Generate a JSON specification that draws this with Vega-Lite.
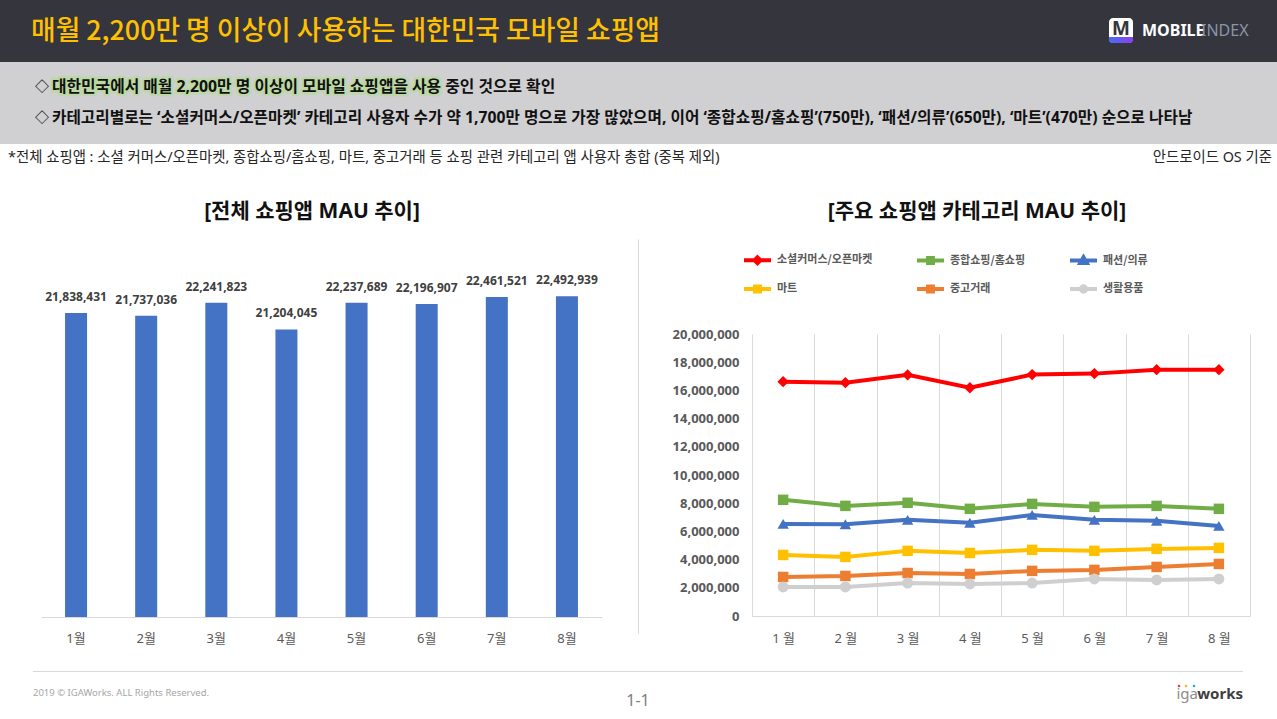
{
  "$schema": "https://vega.github.io/schema/vega-lite/v6.json",
  "padding": 0,
  "background": "#ffffff",
  "spacing": 0,
  "resolve": {"scale": {"color": "independent"}, "legend": {"color": "independent"}},
  "config": {
    "font": "Noto Sans, Noto Sans CJK KR",
    "view": {"stroke": null},
    "title": {"font": "Noto Sans, Noto Sans CJK KR", "color": "#111111", "fontSize": 21, "fontWeight": "bold"}
  },
  "vconcat": [
    {
      "width": 1277,
      "height": 62,
      "view": {"fill": "#34353d", "stroke": null},
      "layer": [
        {
          "data": {"values": [{"t": "매월 2,200만 명 이상이 사용하는 대한민국 모바일 쇼핑앱"}]},
          "mark": {"type": "text", "align": "left", "baseline": "middle", "fontSize": 26.8, "fontWeight": 500, "color": "#ffc000", "font": "Noto Sans CJK KR"},
          "encoding": {"text": {"field": "t"}, "x": {"value": 31}, "y": {"value": 32}}
        },
        {
          "data": {"values": [{}]},
          "mark": {"type": "rect", "color": "#ffffff", "cornerRadius": 4},
          "encoding": {"x": {"value": 1109}, "x2": {"value": 1133}, "y": {"value": 18}, "y2": {"value": 43}}
        },
        {
          "data": {"values": [{}]},
          "mark": {"type": "rect", "cornerRadiusBottomLeft": 4, "cornerRadiusBottomRight": 4,
            "color": {"gradient": "linear", "x1": 0, "x2": 1, "y1": 0, "y2": 0, "stops": [{"offset": 0, "color": "#4d6bf5"}, {"offset": 1, "color": "#8b3ff0"}]}},
          "encoding": {"x": {"value": 1109}, "x2": {"value": 1133}, "y": {"value": 37}, "y2": {"value": 43}}
        },
        {
          "data": {"values": [{"t": "M"}]},
          "mark": {"type": "text", "align": "center", "baseline": "middle", "fontSize": 19, "fontWeight": "bold", "color": "#34353d"},
          "encoding": {"text": {"field": "t"}, "x": {"value": 1121}, "y": {"value": 29}}
        },
        {
          "data": {"values": [{"t": "MOBILE"}]},
          "mark": {"type": "text", "align": "left", "baseline": "middle", "fontSize": 16, "fontWeight": "bold", "color": "#ffffff"},
          "encoding": {"text": {"field": "t"}, "x": {"value": 1142}, "y": {"value": 31}}
        },
        {
          "data": {"values": [{"t": "INDEX"}]},
          "mark": {"type": "text", "align": "left", "baseline": "middle", "fontSize": 16, "color": "#8b95a8"},
          "encoding": {"text": {"field": "t"}, "x": {"value": 1201}, "y": {"value": 31}}
        }
      ]
    },
    {
      "width": 1277,
      "height": 82,
      "view": {"fill": "#d0cfd1", "stroke": null},
      "layer": [
        {
          "data": {"values": [{"t": "대한민국에서 매월 2,200만 명 이상이 모바일 쇼핑앱을 사용"}]},
          "mark": {"type": "text", "align": "left", "baseline": "middle", "fontSize": 15.8, "fontWeight": "bold", "fill": "#b4dc96", "stroke": "#b4dc96", "strokeWidth": 5, "strokeOpacity": 0.7, "strokeJoin": "round"},
          "encoding": {"text": {"field": "t"}, "x": {"value": 52}, "y": {"value": 25}}
        },
        {
          "data": {"values": [{"t": "◇"}]},
          "mark": {"type": "text", "align": "left", "baseline": "middle", "fontSize": 14, "fontWeight": "bold", "color": "#111111"},
          "encoding": {"text": {"field": "t"}, "x": {"value": 35}, "y": {"value": 25}}
        },
        {
          "data": {"values": [{"t": "대한민국에서 매월 2,200만 명 이상이 모바일 쇼핑앱을 사용 중인 것으로 확인"}]},
          "mark": {"type": "text", "align": "left", "baseline": "middle", "fontSize": 15.8, "fontWeight": "bold", "color": "#111111"},
          "encoding": {"text": {"field": "t"}, "x": {"value": 52}, "y": {"value": 25}}
        },
        {
          "data": {"values": [{"t": "◇"}]},
          "mark": {"type": "text", "align": "left", "baseline": "middle", "fontSize": 14, "fontWeight": "bold", "color": "#111111"},
          "encoding": {"text": {"field": "t"}, "x": {"value": 35}, "y": {"value": 56}}
        },
        {
          "data": {"values": [{"t": "카테고리별로는 ‘소셜커머스/오픈마켓’ 카테고리 사용자 수가 약 1,700만 명으로 가장 많았으며, 이어 ‘종합쇼핑/홈쇼핑’(750만), ‘패션/의류’(650만), ‘마트’(470만) 순으로 나타남"}]},
          "mark": {"type": "text", "align": "left", "baseline": "middle", "fontSize": 15.7, "fontWeight": "bold", "color": "#111111"},
          "encoding": {"text": {"field": "t"}, "x": {"value": 52}, "y": {"value": 56}}
        }
      ]
    },
    {
      "width": 1277,
      "height": 57,
      "layer": [
        {
          "data": {"values": [{"t": "*전체 쇼핑앱 : 소셜 커머스/오픈마켓, 종합쇼핑/홈쇼핑, 마트, 중고거래 등 쇼핑 관련 카테고리 앱 사용자 총합 (중복 제외)"}]},
          "mark": {"type": "text", "align": "left", "baseline": "middle", "fontSize": 14.4, "color": "#262626"},
          "encoding": {"text": {"field": "t"}, "x": {"value": 8}, "y": {"value": 14}}
        },
        {
          "data": {"values": [{"t": "안드로이드 OS 기준"}]},
          "mark": {"type": "text", "align": "right", "baseline": "middle", "fontSize": 14.4, "color": "#262626"},
          "encoding": {"text": {"field": "t"}, "x": {"value": 1272}, "y": {"value": 14}}
        }
      ]
    },
    {
      "spacing": 34,
      "resolve": {"scale": {"color": "independent"}, "legend": {"color": "independent"}},
      "hconcat": [
        {
          "width": 602,
          "height": 394,
          "title": {"text": "[전체 쇼핑앱 MAU 추이]", "offset": 17, "dx": 11, "frame": "group", "anchor": "middle"},
          "data": {"values": [
            {"month": "1월", "mau": 21838431},
            {"month": "2월", "mau": 21737036},
            {"month": "3월", "mau": 22241823},
            {"month": "4월", "mau": 21204045},
            {"month": "5월", "mau": 22237689},
            {"month": "6월", "mau": 22196907},
            {"month": "7월", "mau": 22461521},
            {"month": "8월", "mau": 22492939}
          ]},
          "encoding": {
            "x": {
              "field": "month", "type": "nominal",
              "scale": {"domain": ["1월", "2월", "3월", "4월", "5월", "6월", "7월", "8월"], "range": [41, 602], "paddingInner": 0.686, "paddingOuter": 0.343},
              "axis": {"title": null, "labelAngle": 0, "ticks": false, "domain": true, "domainColor": "#d9d9d9", "offset": -16, "labelPadding": 15, "labelFontSize": 13, "labelColor": "#595959", "labelFont": "Noto Sans, Noto Sans CJK KR"}
            },
            "y": {"field": "mau", "type": "quantitative", "scale": {"domain": [9376700, 24725400], "nice": false, "zero": false},
              "axis": {"orient": "right", "offset": 36, "title": null, "domain": true, "domainColor": "#d9d9d9", "ticks": false, "labels": false, "grid": false}}
          },
          "layer": [
            {
              "mark": {"type": "bar", "color": "#4472c4"},
              "encoding": {"y2": {"datum": 10000000}}
            },
            {
              "mark": {"type": "text", "dy": -16, "fontSize": 12, "fontWeight": "bold", "color": "#404040"},
              "encoding": {"text": {"field": "mau", "type": "quantitative", "format": ","}}
            }
          ]
        },
        {
          "width": 498,
          "height": 377,
          "title": {"text": "[주요 쇼핑앱 카테고리 MAU 추이]", "offset": 17, "dx": -24, "frame": "group", "anchor": "middle"},
          "data": {"values": [
            {"month": "1월", "category": "소셜커머스/오픈마켓", "value": 16620000},
            {"month": "2월", "category": "소셜커머스/오픈마켓", "value": 16550000},
            {"month": "3월", "category": "소셜커머스/오픈마켓", "value": 17100000},
            {"month": "4월", "category": "소셜커머스/오픈마켓", "value": 16190000},
            {"month": "5월", "category": "소셜커머스/오픈마켓", "value": 17120000},
            {"month": "6월", "category": "소셜커머스/오픈마켓", "value": 17190000},
            {"month": "7월", "category": "소셜커머스/오픈마켓", "value": 17470000},
            {"month": "8월", "category": "소셜커머스/오픈마켓", "value": 17470000},
            {"month": "1월", "category": "종합쇼핑/홈쇼핑", "value": 8240000},
            {"month": "2월", "category": "종합쇼핑/홈쇼핑", "value": 7810000},
            {"month": "3월", "category": "종합쇼핑/홈쇼핑", "value": 8030000},
            {"month": "4월", "category": "종합쇼핑/홈쇼핑", "value": 7600000},
            {"month": "5월", "category": "종합쇼핑/홈쇼핑", "value": 7950000},
            {"month": "6월", "category": "종합쇼핑/홈쇼핑", "value": 7740000},
            {"month": "7월", "category": "종합쇼핑/홈쇼핑", "value": 7810000},
            {"month": "8월", "category": "종합쇼핑/홈쇼핑", "value": 7600000},
            {"month": "1월", "category": "패션/의류", "value": 6530000},
            {"month": "2월", "category": "패션/의류", "value": 6510000},
            {"month": "3월", "category": "패션/의류", "value": 6820000},
            {"month": "4월", "category": "패션/의류", "value": 6610000},
            {"month": "5월", "category": "패션/의류", "value": 7170000},
            {"month": "6월", "category": "패션/의류", "value": 6820000},
            {"month": "7월", "category": "패션/의류", "value": 6750000},
            {"month": "8월", "category": "패션/의류", "value": 6390000},
            {"month": "1월", "category": "마트", "value": 4330000},
            {"month": "2월", "category": "마트", "value": 4190000},
            {"month": "3월", "category": "마트", "value": 4620000},
            {"month": "4월", "category": "마트", "value": 4470000},
            {"month": "5월", "category": "마트", "value": 4690000},
            {"month": "6월", "category": "마트", "value": 4620000},
            {"month": "7월", "category": "마트", "value": 4760000},
            {"month": "8월", "category": "마트", "value": 4830000},
            {"month": "1월", "category": "중고거래", "value": 2770000},
            {"month": "2월", "category": "중고거래", "value": 2840000},
            {"month": "3월", "category": "중고거래", "value": 3050000},
            {"month": "4월", "category": "중고거래", "value": 2980000},
            {"month": "5월", "category": "중고거래", "value": 3200000},
            {"month": "6월", "category": "중고거래", "value": 3270000},
            {"month": "7월", "category": "중고거래", "value": 3480000},
            {"month": "8월", "category": "중고거래", "value": 3690000},
            {"month": "1월", "category": "생활용품", "value": 2060000},
            {"month": "2월", "category": "생활용품", "value": 2060000},
            {"month": "3월", "category": "생활용품", "value": 2340000},
            {"month": "4월", "category": "생활용품", "value": 2270000},
            {"month": "5월", "category": "생활용품", "value": 2340000},
            {"month": "6월", "category": "생활용품", "value": 2630000},
            {"month": "7월", "category": "생활용품", "value": 2560000},
            {"month": "8월", "category": "생활용품", "value": 2630000}
          ]},
          "encoding": {
            "x": {
              "field": "month", "type": "nominal",
              "scale": {"type": "band", "domain": ["1월", "2월", "3월", "4월", "5월", "6월", "7월", "8월"], "paddingInner": 0, "paddingOuter": 0},
              "axis": {"title": null, "labelAngle": 0, "grid": false, "ticks": true, "tickBand": "extent", "tickSize": -282, "tickColor": "#d9d9d9", "tickWidth": 1, "domain": true, "domainColor": "#d9d9d9", "labelPadding": 298, "labelFontSize": 13, "labelColor": "#595959", "labelFont": "Noto Sans, Noto Sans CJK KR", "labelExpr": "replace(datum.label, '월', ' 월')"}
            },
            "y": {
              "field": "value", "type": "quantitative",
              "scale": {"domain": [0, 26737589], "nice": false},
              "axis": {"title": null, "values": [0, 2000000, 4000000, 6000000, 8000000, 10000000, 12000000, 14000000, 16000000, 18000000, 20000000], "format": ",d", "grid": false, "domain": false, "ticks": false, "labelPadding": 13, "labelFontSize": 13, "labelFontWeight": "bold", "labelColor": "#595959"}
            }
          },
          "layer": [
            {
              "mark": {"type": "line", "strokeWidth": 4},
              "encoding": {
                "color": {
                  "field": "category", "type": "nominal",
                  "scale": {"domain": ["소셜커머스/오픈마켓", "종합쇼핑/홈쇼핑", "패션/의류", "마트", "중고거래", "생활용품"], "range": ["#ff0000", "#70ad47", "#4472c4", "#ffc000", "#ed7d31", "#cfcfcf"]},
                  "legend": {
                    "orient": "none", "legendX": -10, "legendY": 5.5, "direction": "horizontal", "columns": 3, "title": null, "padding": 0,
                    "symbolType": "M-1,0H1M-0.18,-0.18H0.18V0.18H-0.18Z", "symbolSize": 729, "symbolStrokeWidth": 4,
                    "labelFontSize": 11, "labelFontWeight": "bold", "labelColor": "#595959", "labelFont": "Noto Sans CJK KR",
                    "labelOffset": 4, "columnPadding": 36, "rowPadding": 2,
                    "encoding": {
                      "symbols": {
                        "shape": {"value": {"expr": "datum.value === '소셜커머스/오픈마켓' ? 'M-1,0H1M0,-0.22L0.22,0L0,0.22L-0.22,0Z' : datum.value === '패션/의류' ? 'M-1,0H1M0,-0.24L0.24,0.18H-0.24Z' : datum.value === '생활용품' ? 'M-1,0H1M-0.2,0A0.2,0.2,0,1,1,0.2,0A0.2,0.2,0,1,1,-0.2,0Z' : 'M-1,0H1M-0.18,-0.18H0.18V0.18H-0.18Z'"}},
                        "fill": {"value": {"expr": "scale('color', datum.value)"}},
                        "stroke": {"value": {"expr": "scale('color', datum.value)"}},
                        "strokeWidth": {"value": 4}
                      }
                    }
                  }
                }
              }
            },
            {
              "transform": [{"filter": "datum.category === '소셜커머스/오픈마켓'"}],
              "mark": {"type": "point", "shape": "diamond", "filled": true, "size": 130, "opacity": 1},
              "encoding": {"color": {"field": "category", "type": "nominal"}}
            },
            {
              "transform": [{"filter": {"field": "category", "oneOf": ["종합쇼핑/홈쇼핑", "마트", "중고거래"]}}],
              "mark": {"type": "point", "shape": "square", "filled": true, "size": 110, "opacity": 1},
              "encoding": {"color": {"field": "category", "type": "nominal"}}
            },
            {
              "transform": [{"filter": "datum.category === '패션/의류'"}],
              "mark": {"type": "point", "shape": "triangle-up", "filled": true, "size": 130, "opacity": 1},
              "encoding": {"color": {"field": "category", "type": "nominal"}}
            },
            {
              "transform": [{"filter": "datum.category === '생활용품'"}],
              "mark": {"type": "point", "shape": "circle", "filled": true, "size": 120, "opacity": 1},
              "encoding": {"color": {"field": "category", "type": "nominal"}}
            }
          ]
        }
      ]
    },
    {
      "width": 1277,
      "height": 74,
      "layer": [
        {
          "data": {"values": [{}]},
          "mark": {"type": "rule", "color": "#d9d9d9", "strokeWidth": 1},
          "encoding": {"x": {"value": 33}, "x2": {"value": 1243}, "y": {"value": 26.5}}
        },
        {
          "data": {"values": [{"t": "2019 © IGAWorks. ALL Rights Reserved."}]},
          "mark": {"type": "text", "align": "left", "baseline": "middle", "fontSize": 9.5, "color": "#a6a6a6"},
          "encoding": {"text": {"field": "t"}, "x": {"value": 33}, "y": {"value": 47.5}}
        },
        {
          "data": {"values": [{"t": "1-1"}]},
          "mark": {"type": "text", "align": "center", "baseline": "middle", "fontSize": 16, "color": "#7f7f7f"},
          "encoding": {"text": {"field": "t"}, "x": {"value": 638}, "y": {"value": 55.5}}
        },
        {
          "data": {"values": [{"t": "works"}]},
          "mark": {"type": "text", "align": "right", "baseline": "middle", "fontSize": 15, "fontWeight": "bold", "color": "#3d3d3d"},
          "encoding": {"text": {"field": "t"}, "x": {"value": 1243}, "y": {"value": 49}}
        },
        {
          "data": {"values": [{"t": "iga"}]},
          "mark": {"type": "text", "align": "right", "baseline": "middle", "fontSize": 15, "color": "#8c8c8c"},
          "encoding": {"text": {"field": "t"}, "x": {"value": 1198}, "y": {"value": 49}}
        },
        {
          "data": {"values": [{}]},
          "mark": {"type": "point", "shape": "square", "filled": true, "size": 5, "color": "#e8383d", "opacity": 1},
          "encoding": {"x": {"value": 1179}, "y": {"value": 41}}
        },
        {
          "data": {"values": [{}]},
          "mark": {"type": "point", "shape": "square", "filled": true, "size": 5, "color": "#f5b21b", "opacity": 1},
          "encoding": {"x": {"value": 1186}, "y": {"value": 41}}
        },
        {
          "data": {"values": [{}]},
          "mark": {"type": "point", "shape": "square", "filled": true, "size": 5, "color": "#1ea4de", "opacity": 1},
          "encoding": {"x": {"value": 1194}, "y": {"value": 41}}
        }
      ]
    }
  ]
}
